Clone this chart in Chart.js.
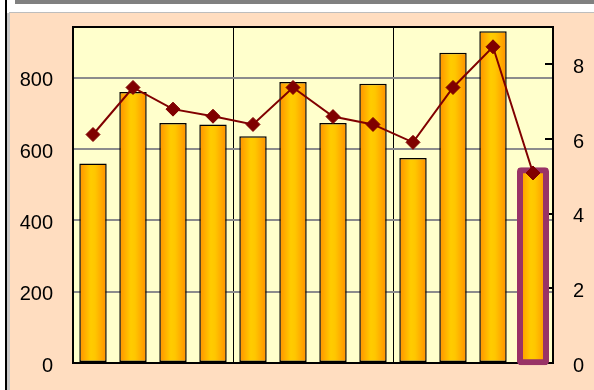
<!DOCTYPE html>
<html>
<head>
<meta charset="utf-8">
<title>Bars and line</title>
<script src="https://cdn.jsdelivr.net/npm/chart.js@4/dist/chart.umd.min.js"></script>
<style>
    html, body { margin: 0; padding: 0; background: #FFFFFF; }
    body { width: 594px; height: 390px; position: relative; overflow: hidden; }
    .top-band { position: absolute; left: 15px; top: 0; width: 579px; height: 4px; background: #808080; }
    .top-rule { position: absolute; left: 9px; top: 12px; width: 585px; height: 1px; background: #BDBDBD; }
    .left-rule { position: absolute; left: 5px; top: 0; width: 2px; height: 390px; background: #000000; }
    .left-shade { position: absolute; left: 7px; top: 13px; width: 3px; height: 377px; background: #C8C8C8; }
    .chart-box { position: absolute; left: 10px; top: 13px; width: 584px; height: 377px; background: #FFDDC0; }
</style>
</head>
<body>
<div class="top-band"></div>
<div class="top-rule"></div>
<div class="left-rule"></div>
<div class="left-shade"></div>
<div class="chart-box"><canvas id="comboChart"></canvas></div>

<script>
// ============================================================
// DATA
// ============================================================
const categories = ['1', '2', '3', '4', '5', '6', '7', '8', '9', '10', '11', '12'];
const barValues = [559, 760, 673, 669, 636, 788, 673, 783, 575, 870, 930, 540];
const lineValues = [6.12, 7.38, 6.80, 6.61, 6.39, 7.38, 6.60, 6.39, 5.91, 7.38, 8.47, 5.09];
const highlightRange = [null, null, null, null, null, null, null, null, null, null, null, [-6, 549]];
const leftTicks = [0, 200, 400, 600, 800];
const rightTicks = [0, 2, 4, 6, 8];

// ============================================================
// STYLE
// ============================================================
const BAR_PERCENT = 0.685;
const FONT = { family: "'Liberation Sans', Arial, sans-serif", size: 20 };

function barGradient(context) {
    const chart = context.chart;
    const area = chart.chartArea;
    if (!area || context.type !== 'data') return '#FFCC00';
    const x = chart.scales.x.getPixelForValue(context.dataIndex);
    const half = (area.width / categories.length) * BAR_PERCENT / 2;
    const g = chart.ctx.createLinearGradient(x - half, 0, x + half, 0);
    g.addColorStop(0, '#FF9000');
    g.addColorStop(0.42, '#FFCC00');
    g.addColorStop(0.58, '#FFC600');
    g.addColorStop(1, '#FF9000');
    return g;
}

// fixed axis widths so the plot area lands where the original has it
function fitAxis(width) {
    return (axis) => {
        axis.width = width;
        axis.paddingTop = 0;
        axis.paddingBottom = 0;
    };
}

// plot area fill + frame
const plotFrame = {
    id: 'plotFrame',
    beforeDraw(chart) {
        const a = chart.chartArea;
        const ctx = chart.ctx;
        ctx.save();
        ctx.fillStyle = '#FFFFCC';
        ctx.fillRect(a.left, a.top, a.width, a.height);
        ctx.restore();
    },
    beforeDatasetsDraw(chart) {
        const a = chart.chartArea;
        const ctx = chart.ctx;
        ctx.save();
        ctx.strokeStyle = '#000000';
        ctx.lineWidth = 2;
        ctx.strokeRect(a.left, a.top, a.width, a.height);
        ctx.restore();
    }
};

// ============================================================
// CHART
// ============================================================
new Chart(document.getElementById('comboChart'), {
    data: {
        labels: categories,
        datasets: [
            {
                type: 'line',
                data: lineValues,
                yAxisID: 'y1',
                order: 0,
                borderColor: '#800000',
                borderWidth: 2,
                pointStyle: 'rectRot',
                pointRadius: 7,
                pointBackgroundColor: '#800000',
                pointBorderColor: '#800000',
                pointBorderWidth: 1,
                tension: 0
            },
            {
                type: 'bar',
                data: highlightRange,
                yAxisID: 'y',
                order: 1,
                grouped: false,
                clip: false,
                barPercentage: 0.8,
                categoryPercentage: 1,
                backgroundColor: 'rgba(0,0,0,0)',
                borderColor: '#993366',
                borderWidth: 6,
                borderRadius: 4,
                borderSkipped: false
            },
            {
                type: 'bar',
                data: barValues,
                yAxisID: 'y',
                order: 2,
                grouped: false,
                barPercentage: BAR_PERCENT,
                categoryPercentage: 1,
                backgroundColor: barGradient,
                borderColor: '#000000',
                borderWidth: 1.5,
                borderSkipped: false
            }
        ]
    },
    options: {
        responsive: true,
        maintainAspectRatio: false,
        animation: false,
        layout: { padding: { top: 14, bottom: 27, left: 10, right: 10 } },
        plugins: {
            legend: { display: false },
            tooltip: { enabled: false }
        },
        scales: {
            x: {
                offset: true,
                ticks: { display: false },
                border: { display: false },
                grid: {
                    offset: true,
                    drawTicks: false,
                    lineWidth: 1,
                    color: (c) => (c.index === 4 || c.index === 8) ? '#000000' : 'rgba(0,0,0,0)'
                }
            },
            y: {
                position: 'left',
                min: 0,
                max: 942,
                afterBuildTicks: (axis) => { axis.ticks = leftTicks.map(v => ({ value: v })); },
                afterFit: fitAxis(53),
                ticks: { color: '#000000', font: FONT, padding: 20, labelOffset: 3 },
                border: { display: false },
                grid: { color: '#8C8C8C', lineWidth: 2, drawTicks: false }
            },
            y1: {
                position: 'right',
                min: 0,
                max: 9.0,
                afterBuildTicks: (axis) => { axis.ticks = rightTicks.map(v => ({ value: v })); },
                afterFit: fitAxis(31),
                ticks: { color: '#000000', font: FONT, padding: 28, labelOffset: 3 },
                border: { display: false },
                grid: { drawOnChartArea: false, color: '#000000', lineWidth: 2, tickLength: -8 }
            }
        }
    },
    plugins: [plotFrame]
});
</script>
</body>
</html>
